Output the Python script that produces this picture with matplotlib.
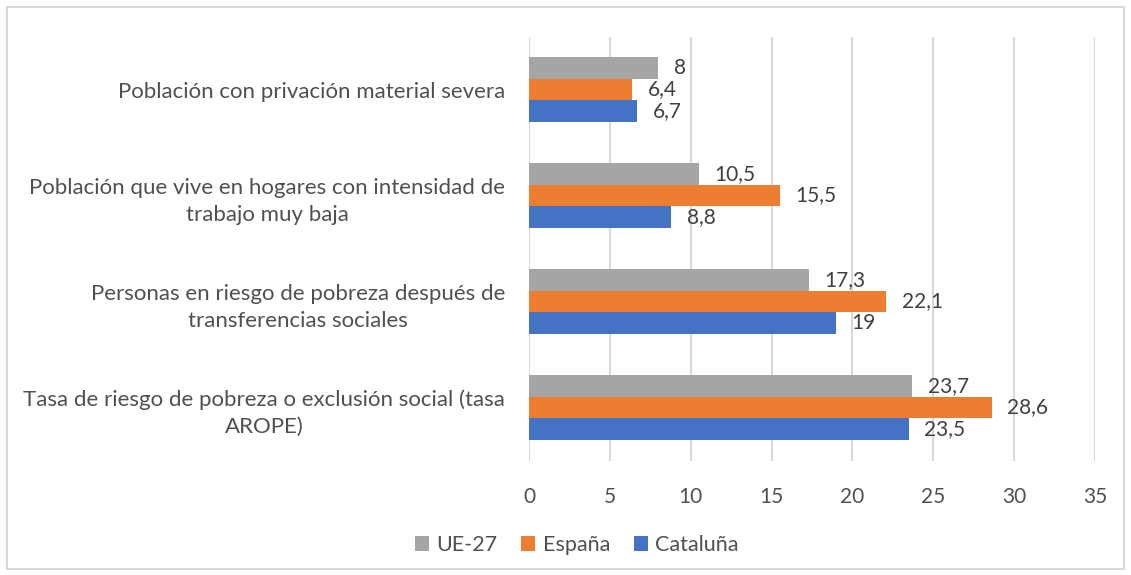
import matplotlib.pyplot as plt
import numpy as np
from matplotlib.patches import Rectangle

plt.rcParams["font.family"] = ["Lato", "DejaVu Sans"]

categories = [
    "Tasa de riesgo de pobreza o exclusión social (tasa\nAROPE)",
    "Personas en riesgo de pobreza después de\ntransferencias sociales",
    "Población que vive en hogares con intensidad de\ntrabajo muy baja",
    "Población con privación material severa",
]
series = ["UE-27", "España", "Cataluña"]
ue27 = [23.7, 17.3, 10.5, 8]
espana = [28.6, 22.1, 15.5, 6.4]
cataluna = [23.5, 19, 8.8, 6.7]
labels_ue27 = ["23,7", "17,3", "10,5", "8"]
labels_espana = ["28,6", "22,1", "15,5", "6,4"]
labels_cataluna = ["23,5", "19", "8,8", "6,7"]

colors = ["#A5A5A5", "#ED7D31", "#4472C4"]
text_color = "#505050"

fig = plt.figure(figsize=(11.31, 5.75), dpi=100)
ax = fig.add_axes([0.4677, 0.199, 0.5005, 0.7375])

y = np.arange(len(categories))
h = 0.204
offsets = [h, 0, -h]
data = [ue27, espana, cataluna]
labels = [labels_ue27, labels_espana, labels_cataluna]

for vals, labs, off, col, name in zip(data, labels, offsets, colors, series):
    bars = ax.barh(y + off, vals, height=h, color=col, label=name, zorder=3)
    ax.bar_label(bars, labels=labs, padding=11, fontsize=15, color="#404040")

ax.set_xlim(0, 35)
ax.set_ylim(-0.5, 3.5)
ax.set_xticks(range(0, 36, 5))
ax.set_yticks(y)
ax.set_yticklabels(categories, multialignment="center", linespacing=1.45)
ax.tick_params(axis="x", length=0, pad=19, labelsize=15, labelcolor=text_color)
ax.tick_params(axis="y", length=0, pad=17, labelsize=16, labelcolor=text_color)
ax.grid(axis="x", color="#D9D9D9", linewidth=1.5, zorder=0)
for s in ax.spines.values():
    s.set_visible(False)

handles, lbls = ax.get_legend_handles_labels()
leg = fig.legend(handles, lbls, loc="center", bbox_to_anchor=(0.51, 0.052), ncol=3,
                 frameon=False, fontsize=15.5, handlelength=0.65, handleheight=0.65,
                 columnspacing=1.1, handletextpad=0.35)
for t in leg.get_texts():
    t.set_color(text_color)

fig.patches.append(Rectangle((7 / 1131, 6 / 575), 1117 / 1131, 562 / 575,
                             transform=fig.transFigure, fill=False,
                             edgecolor="#D9D9D9", linewidth=1.5))

fig.savefig("out.png", dpi=100, facecolor="white")
